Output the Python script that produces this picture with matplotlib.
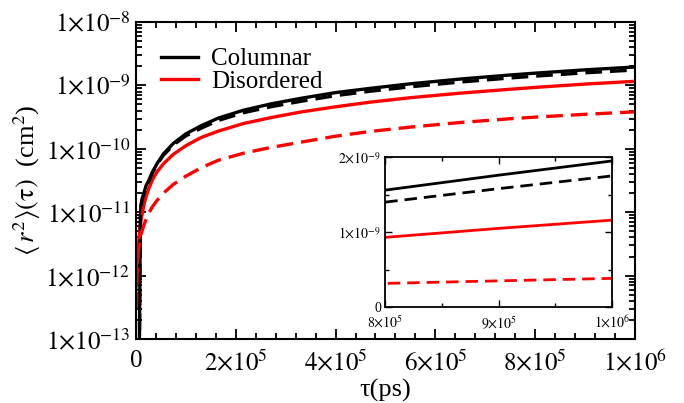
import numpy as np
import matplotlib
matplotlib.use("Agg")
import matplotlib.pyplot as plt
from matplotlib.ticker import LogLocator, NullFormatter, MultipleLocator

plt.rcParams['font.family'] = ['Liberation Serif', 'DejaVu Serif']
plt.rcParams['mathtext.fontset'] = 'stix'

# tau (ps) grid shared by all curves
tau = [0, 1000, 2000, 4000, 6000, 7000, 8000, 9000, 10000, 13000, 16000, 20000, 26000,
       33000, 42000, 55000, 75000, 100000, 130000, 165000, 215000, 270000, 330000,
       400000, 470000, 550000, 650000, 750000, 800000, 900000, 1000000]

# MSD (cm^2)
col_solid = [1e-15, 1e-15, 1e-15, 1e-15, 2e-14, 1.2e-13, 1.5e-12, 9e-12, 1.3e-11, 1.7e-11, 2.0e-11, 2.6e-11, 3.2e-11,
             4.3e-11, 5.8e-11, 8.3e-11, 1.22e-10, 1.72e-10, 2.3e-10, 3.05e-10, 4.05e-10, 5.1e-10, 6.25e-10,
             7.7e-10, 9.0e-10, 1.06e-9, 1.26e-9, 1.46e-9, 1.56e-9, 1.76e-9, 1.95e-9]
col_dash = [1e-15, 1e-15, 1e-15, 1e-15, 1.5e-14, 1e-13, 1.3e-12, 8.5e-12, 1.25e-11, 1.65e-11, 1.95e-11, 2.5e-11, 3.1e-11,
            4.2e-11, 5.6e-11, 7.9e-11, 1.15e-10, 1.6e-10, 2.1e-10, 2.8e-10, 3.7e-10, 4.6e-10, 5.6e-10,
            6.9e-10, 8.1e-10, 9.5e-10, 1.13e-9, 1.31e-9, 1.40e-9, 1.58e-9, 1.75e-9]
dis_solid = [6e-13, 1.1e-12, 1.7e-12, 2.8e-12, 3.8e-12, 4.5e-12, 5.5e-12, 6.5e-12, 7.5e-12, 1.0e-11, 1.3e-11, 1.75e-11, 2.4e-11,
             3.25e-11, 4.3e-11, 5.8e-11, 8.2e-11, 1.12e-10, 1.5e-10, 1.9e-10, 2.5e-10, 3.1e-10, 3.8e-10,
             4.6e-10, 5.45e-10, 6.4e-10, 7.55e-10, 8.7e-10, 9.3e-10, 1.05e-9, 1.16e-9]
dis_dash = [3e-13, 3.2e-13, 1.0e-12, 2.0e-12, 2.9e-12, 3.2e-12, 3.6e-12, 4.0e-12, 4.4e-12, 5.3e-12, 6.3e-12, 7.6e-12, 9.8e-12,
            1.22e-11, 1.53e-11, 2.0e-11, 2.75e-11, 3.7e-11, 5.0e-11, 6.6e-11, 8.5e-11, 1.05e-10, 1.27e-10,
            1.58e-10, 1.88e-10, 2.2e-10, 2.6e-10, 2.98e-10, 3.16e-10, 3.5e-10, 3.83e-10]

series_labels = ["Columnar", "Disordered"]

xticks = [0, 2e5, 4e5, 6e5, 8e5, 1e6]
xtick_labels = ["0", r"$2{\times}10^{5}$", r"$4{\times}10^{5}$", r"$6{\times}10^{5}$",
                r"$8{\times}10^{5}$", r"$1{\times}10^{6}$"]
yticks = [1e-13, 1e-12, 1e-11, 1e-10, 1e-9, 1e-8]
ytick_labels = [r"$1{\times}10^{-13}$", r"$1{\times}10^{-12}$", r"$1{\times}10^{-11}$",
                r"$1{\times}10^{-10}$", r"$1{\times}10^{-9}$", r"$1{\times}10^{-8}$"]

in_xticks = [8e5, 9e5, 1e6]
in_xtick_labels = [r"$8{\times}10^{5}$", r"$9{\times}10^{5}$", r"$1{\times}10^{6}$"]
in_yticks = [0, 1e-9, 2e-9]
in_ytick_labels = ["0", r"$1{\times}10^{-9}$", r"$2{\times}10^{-9}$"]

fig = plt.figure(figsize=(6.84, 4.03), dpi=100)
ax = fig.add_axes([0.1988, 0.1588, 0.7295, 0.7866])

lw = 2.4
dashes = (0, (5, 2.4))
ax.plot(tau, col_solid, color='black', lw=lw, label=series_labels[0])
ax.plot(tau, dis_solid, color='red', lw=lw, label=series_labels[1])
ax.plot(tau, col_dash, color='black', lw=lw, ls=dashes)
ax.plot(tau, dis_dash, color='red', lw=lw, ls=dashes)

ax.set_yscale('log')
ax.set_xlim(0, 1e6)
ax.set_ylim(1e-13, 1e-8)
ax.set_xticks(xticks)
ax.set_xticklabels(xtick_labels)
ax.xaxis.set_minor_locator(MultipleLocator(4e4))
ax.set_yticks(yticks)
ax.set_yticklabels(ytick_labels)
ax.yaxis.set_minor_locator(LogLocator(base=10, subs=np.arange(2, 10), numticks=20))
ax.yaxis.set_minor_formatter(NullFormatter())
ax.tick_params(which='both', direction='in', top=True, right=True, width=1.3)
ax.tick_params(which='major', length=7, labelsize=18, pad=4)
ax.tick_params(axis='x', which='major', pad=8)
ax.tick_params(which='minor', length=4)
for s in ax.spines.values():
    s.set_linewidth(1.5)

ax.set_xlabel("τ(ps)", fontsize=19, labelpad=2)
ax.set_ylabel(r"$\langle\, r^{2}\rangle(\mathrm{\tau})$  (cm$^{2}$)", fontsize=19, labelpad=2)

ax.legend(loc='upper left', bbox_to_anchor=(0.03, 0.95), frameon=False, fontsize=18,
          handlelength=1.5, handletextpad=0.5, labelspacing=0.0, borderaxespad=0)

# inset
axin = fig.add_axes([0.563, 0.238, 0.332, 0.372])
lw2 = 2.0
dashes2 = (0, (4.5, 2.5))
axin.plot(tau, col_solid, color='black', lw=lw2)
axin.plot(tau, col_dash, color='black', lw=lw2, ls=dashes2)
axin.plot(tau, dis_solid, color='red', lw=lw2)
axin.plot(tau, dis_dash, color='red', lw=lw2, ls=dashes2)
axin.set_xlim(8e5, 1e6)
axin.set_ylim(0, 2e-9)
axin.set_xticks(in_xticks)
axin.set_xticklabels(in_xtick_labels)
axin.set_yticks(in_yticks)
axin.set_yticklabels(in_ytick_labels)
axin.xaxis.set_minor_locator(MultipleLocator(5e4))
axin.yaxis.set_minor_locator(MultipleLocator(5e-10))
axin.tick_params(which='both', direction='in', top=True, right=True, width=1.0)
axin.tick_params(which='major', length=5, labelsize=10, pad=3)
axin.tick_params(axis='x', which='major', pad=5)
axin.tick_params(which='minor', length=3)
for s in axin.spines.values():
    s.set_linewidth(1.3)

fig.savefig("out.png", dpi=100)
